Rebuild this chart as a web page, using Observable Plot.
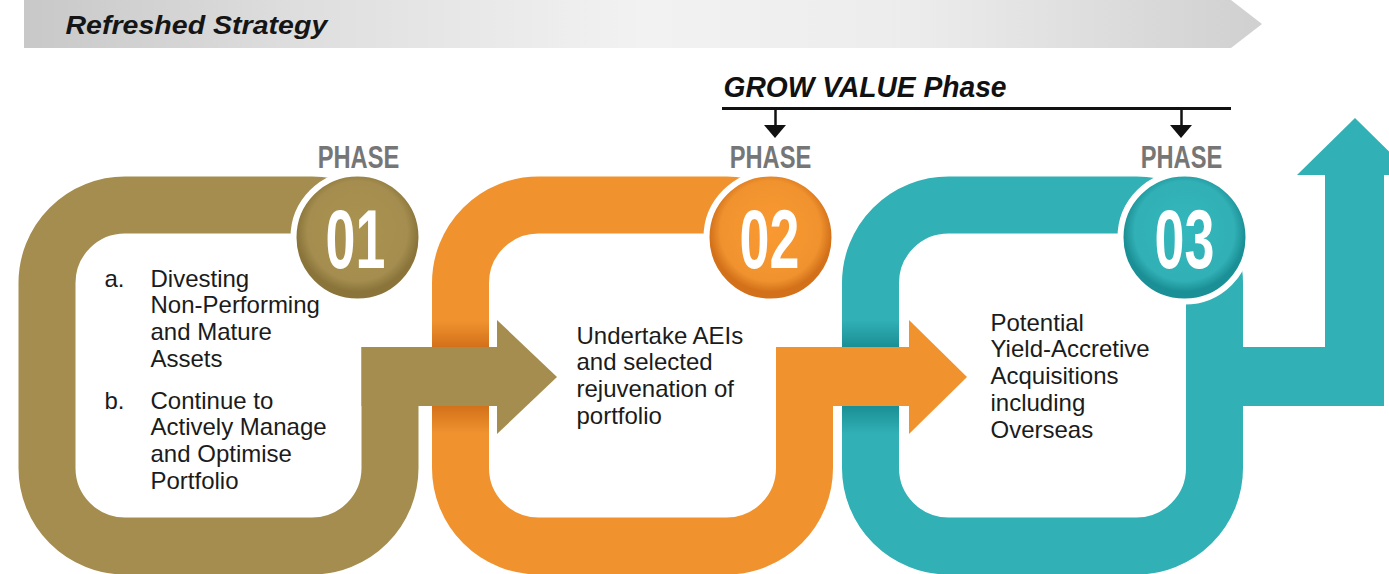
<!DOCTYPE html>
<html>
<head>
<meta charset="utf-8">
<script src="https://cdn.jsdelivr.net/npm/d3@7"></script>
<script src="https://cdn.jsdelivr.net/npm/@observablehq/plot@0.6"></script>
<style>
  html, body { margin: 0; padding: 0; background: #ffffff; }
  #chart { width: 1389px; height: 574px; overflow: hidden; }
</style>
</head>
<body>
<div id="chart"></div>
<script>
// ---------- content ----------
const bannerTitle = "Refreshed Strategy";
const groupTitle = "GROW VALUE Phase";
const phaseWord = "PHASE";
const phaseNumbers = ["01", "02", "03"];
const phaseColors = ["#a48d4e", "#f0932f", "#31b0b5"];
const phaseDarkColors = ["#8a743a", "#d3711a", "#1a8f95"];
const phase1Markers = ["a.", "b."];
const phase1Items = [
  "Divesting\nNon-Performing\nand Mature\nAssets",
  "Continue to\nActively Manage\nand Optimise\nPortfolio"
];
const phase2Text = "Undertake AEIs\nand selected\nrejuvenation of\nportfolio";
const phase3Text = "Potential\nYield-Accretive\nAcquisitions\nincluding\nOverseas";
const growPhaseIndex = [1, 2];

// ---------- layout (pixels) ----------
const W = 1389, H = 574;
const L = {
  bannerX0: 24, bannerX1: 1231, bannerTip: 1262, bannerY0: 0, bannerY1: 48, bannerMid: 24,
  loopX1: [47, 460.5, 870.5], loopX2: [390, 804.5, 1214.5],
  loopY1: 205, loopY2: 546, band: 57, radius: 78,
  circleX: [357, 770, 1184], circleY: 237, circleR: 64, ringW: 6,
  shaftY1: 347, shaftY2: 406,
  headBase: [497, 909], headTip: [557, 967], headY1: 320, headY2: 434, headMid: 377,
  upX1: 1325, upX2: 1384, upBase: 175, upTip: 118, upHeadX1: 1297, upHeadX2: 1413, upMid: 1355,
  coverY1: 244,
  shadeY1: 298, shadeY2: 458,
  phaseWordX: [358, 770, 1181], phaseWordY: 145,
  numberX: [355, 769, 1184], numberY: 208,
  bannerTitleX: 65, bannerTitleY: 15,
  groupTitleX: 723, groupTitleY: 75,
  growLineY: 108, growLineX1: 722, growLineX2: 1231,
  growArrowX: [775, 1181], growStemY2: 125, growHeadY2: 138, growHeadHalf: 11,
  p1MarkerX: 104, p1TextX: 150, p1Y: [267, 389],
  p2X: 576, p2Y: 324,
  p3X: 990, p3Y: 311
};

const FONT = "'Liberation Sans', Arial, Helvetica, sans-serif";
const bodyStyle = {fontFamily: FONT, fontSize: 24, lineHeight: 1.12, fill: "#1b1b1b", textAnchor: "start", lineAnchor: "top"};

const marks = [];

// banner chevron
marks.push(Plot.area([
  {x: L.bannerX0, y1: L.bannerY0, y2: L.bannerY1},
  {x: L.bannerX1, y1: L.bannerY0, y2: L.bannerY1},
  {x: L.bannerTip, y1: L.bannerMid, y2: L.bannerMid}
], {x1: "x", y1: "y1", y2: "y2", fill: "url(#bannerGrad)"}));

// loops
phaseNumbers.forEach((n, i) => {
  marks.push(Plot.rect([n], {
    x1: L.loopX1[i], x2: L.loopX2[i], y1: L.loopY1, y2: L.loopY2,
    rx: L.radius, ry: L.radius, fill: "none", stroke: phaseColors[i], strokeWidth: L.band
  }));
});

// shading on bands where the previous arrow crosses
[1, 2].forEach(i => {
  marks.push(Plot.rect([i], {
    x1: L.loopX1[i] - L.band / 2, x2: L.loopX1[i] + L.band / 2,
    y1: L.shadeY1, y2: L.shadeY2, fill: `url(#shade${i})`
  }));
});

// white covers: gold & orange loops are open above their arrows
[0, 1].forEach(i => {
  marks.push(Plot.rect([i], {
    x1: L.loopX2[i] - L.band / 2 - 8, x2: L.loopX2[i] + L.band / 2 + 5,
    y1: L.coverY1, y2: L.shaftY1, fill: "#ffffff"
  }));
});

// teal outgoing arrow (right then up)
marks.push(Plot.rect([2], {x1: L.loopX2[2], x2: L.upX2, y1: L.shaftY1, y2: L.shaftY2, fill: phaseColors[2]}));
marks.push(Plot.rect([2], {x1: L.upX1, x2: L.upX2, y1: L.upBase, y2: L.shaftY2, fill: phaseColors[2]}));
marks.push(Plot.area([
  {x: L.upHeadX1, y1: L.upBase, y2: L.upBase},
  {x: L.upMid, y1: L.upTip, y2: L.upBase},
  {x: L.upHeadX2, y1: L.upBase, y2: L.upBase}
], {x1: "x", y1: "y1", y2: "y2", fill: phaseColors[2]}));

// orange and gold arrows (drawn over next loop)
[1, 0].forEach(i => {
  marks.push(Plot.rect([i], {
    x1: L.loopX2[i] - L.band / 2, x2: L.headBase[i], y1: L.shaftY1, y2: L.shaftY2, fill: phaseColors[i]
  }));
  marks.push(Plot.area([
    {x: L.headBase[i], y1: L.headY1, y2: L.headY2},
    {x: L.headTip[i], y1: L.headMid, y2: L.headMid}
  ], {x1: "x", y1: "y1", y2: "y2", fill: phaseColors[i]}));
});

// phase circles
phaseNumbers.forEach((n, i) => {
  marks.push(Plot.dot([n], {
    x: L.circleX[i], y: L.circleY, r: L.circleR,
    fill: `url(#circ${i})`, stroke: "#ffffff", strokeWidth: L.ringW
  }));
});

// numbers
phaseNumbers.forEach((n, i) => {
  marks.push(Plot.text([n], {
    x: L.numberX[i], y: L.numberY, text: d => d,
    fontFamily: FONT, fontWeight: "bold", fontSize: 84, fill: "#ffffff",
    textAnchor: "middle", lineAnchor: "top"
  }));
});

// PHASE labels
marks.push(Plot.text(phaseNumbers, {
  x: (d, i) => L.phaseWordX[i], y: L.phaseWordY, text: () => phaseWord,
  fontFamily: FONT, fontWeight: "bold", fontSize: 32, fill: "#767676",
  textAnchor: "middle", lineAnchor: "top"
}));

// titles
marks.push(Plot.text([bannerTitle], {
  x: L.bannerTitleX, y: L.bannerTitleY, text: d => d,
  fontFamily: FONT, fontWeight: "bold", fontStyle: "italic", fontSize: 25.5, fill: "#151515",
  textAnchor: "start", lineAnchor: "top"
}));
marks.push(Plot.text([groupTitle], {
  x: L.groupTitleX, y: L.groupTitleY, text: d => d,
  fontFamily: FONT, fontWeight: "bold", fontStyle: "italic", fontSize: 30, fill: "#111111",
  textAnchor: "start", lineAnchor: "top"
}));

// GROW VALUE bracket
marks.push(Plot.ruleY([L.growLineY], {x1: L.growLineX1, x2: L.growLineX2, stroke: "#111", strokeWidth: 3}));
growPhaseIndex.forEach((p, k) => {
  const gx = L.growArrowX[k];
  marks.push(Plot.ruleX([gx], {y1: L.growLineY, y2: L.growStemY2, stroke: "#111", strokeWidth: 2.5}));
  marks.push(Plot.area([
    {x: gx - L.growHeadHalf, y1: L.growStemY2, y2: L.growStemY2},
    {x: gx, y1: L.growStemY2, y2: L.growHeadY2},
    {x: gx + L.growHeadHalf, y1: L.growStemY2, y2: L.growStemY2}
  ], {x1: "x", y1: "y1", y2: "y2", fill: "#111"}));
});

// body texts
marks.push(Plot.text(phase1Markers, {x: L.p1MarkerX, y: (d, i) => L.p1Y[i], text: d => d, ...bodyStyle}));
marks.push(Plot.text(phase1Items, {x: L.p1TextX, y: (d, i) => L.p1Y[i], text: d => d, ...bodyStyle}));
marks.push(Plot.text([phase2Text], {x: L.p2X, y: L.p2Y, text: d => d, ...bodyStyle}));
marks.push(Plot.text([phase3Text], {x: L.p3X, y: L.p3Y, text: d => d, ...bodyStyle}));

const svg = Plot.plot({
  width: W, height: H,
  marginTop: 0, marginRight: 0, marginBottom: 0, marginLeft: 0,
  x: {domain: [0, W], range: [0, W], axis: null},
  y: {domain: [0, H], range: [0, H], axis: null},
  style: {background: "#ffffff", overflow: "hidden"},
  marks
});

// gradients
const defs = d3.select(svg).insert("defs", ":first-child");
const bg = defs.append("linearGradient").attr("id", "bannerGrad").attr("x1", 0).attr("x2", 1).attr("y1", 0).attr("y2", 0);
[[0, "#c8c8c8"], [0.22, "#dedede"], [0.5, "#f2f2f2"], [0.72, "#ececec"], [1, "#d0d0d0"]]
  .forEach(([o, c]) => bg.append("stop").attr("offset", o).attr("stop-color", c));
phaseColors.forEach((c, i) => {
  const rg = defs.append("radialGradient").attr("id", `circ${i}`).attr("cx", 0.5).attr("cy", 0.45).attr("r", 0.5);
  rg.append("stop").attr("offset", 0).attr("stop-color", d3.color(c).brighter(0.12).formatHex());
  rg.append("stop").attr("offset", 0.78).attr("stop-color", c);
  rg.append("stop").attr("offset", 0.95).attr("stop-color", phaseDarkColors[i]);
  rg.append("stop").attr("offset", 1).attr("stop-color", phaseDarkColors[i]);
});
[1, 2].forEach(i => {
  const span = L.shadeY2 - L.shadeY1;
  const f = y => (y - L.shadeY1) / span;
  const sg = defs.append("linearGradient").attr("id", `shade${i}`).attr("x1", 0).attr("x2", 0).attr("y1", 0).attr("y2", 1);
  [[0, phaseColors[i]], [f(L.headY1), phaseColors[i]], [f(L.shaftY1), phaseDarkColors[i]],
   [f(L.shaftY2), phaseDarkColors[i]], [f(L.headY2), phaseColors[i]], [1, phaseColors[i]]]
    .forEach(([o, c]) => sg.append("stop").attr("offset", o).attr("stop-color", c));
});

// horizontal condensing / widening of display type
const squash = {[phaseWord]: 0.74, [bannerTitle]: 1.12, [groupTitle]: 0.94};
phaseNumbers.forEach(n => squash[n] = 0.64);
d3.select(svg).selectAll("text").each(function () {
  const s = squash[this.textContent];
  if (s) {
    const t = this.getAttribute("transform") || "";
    this.setAttribute("transform", `${t} scale(${s},1)`);
  }
});

document.getElementById("chart").appendChild(svg);
</script>
</body>
</html>
